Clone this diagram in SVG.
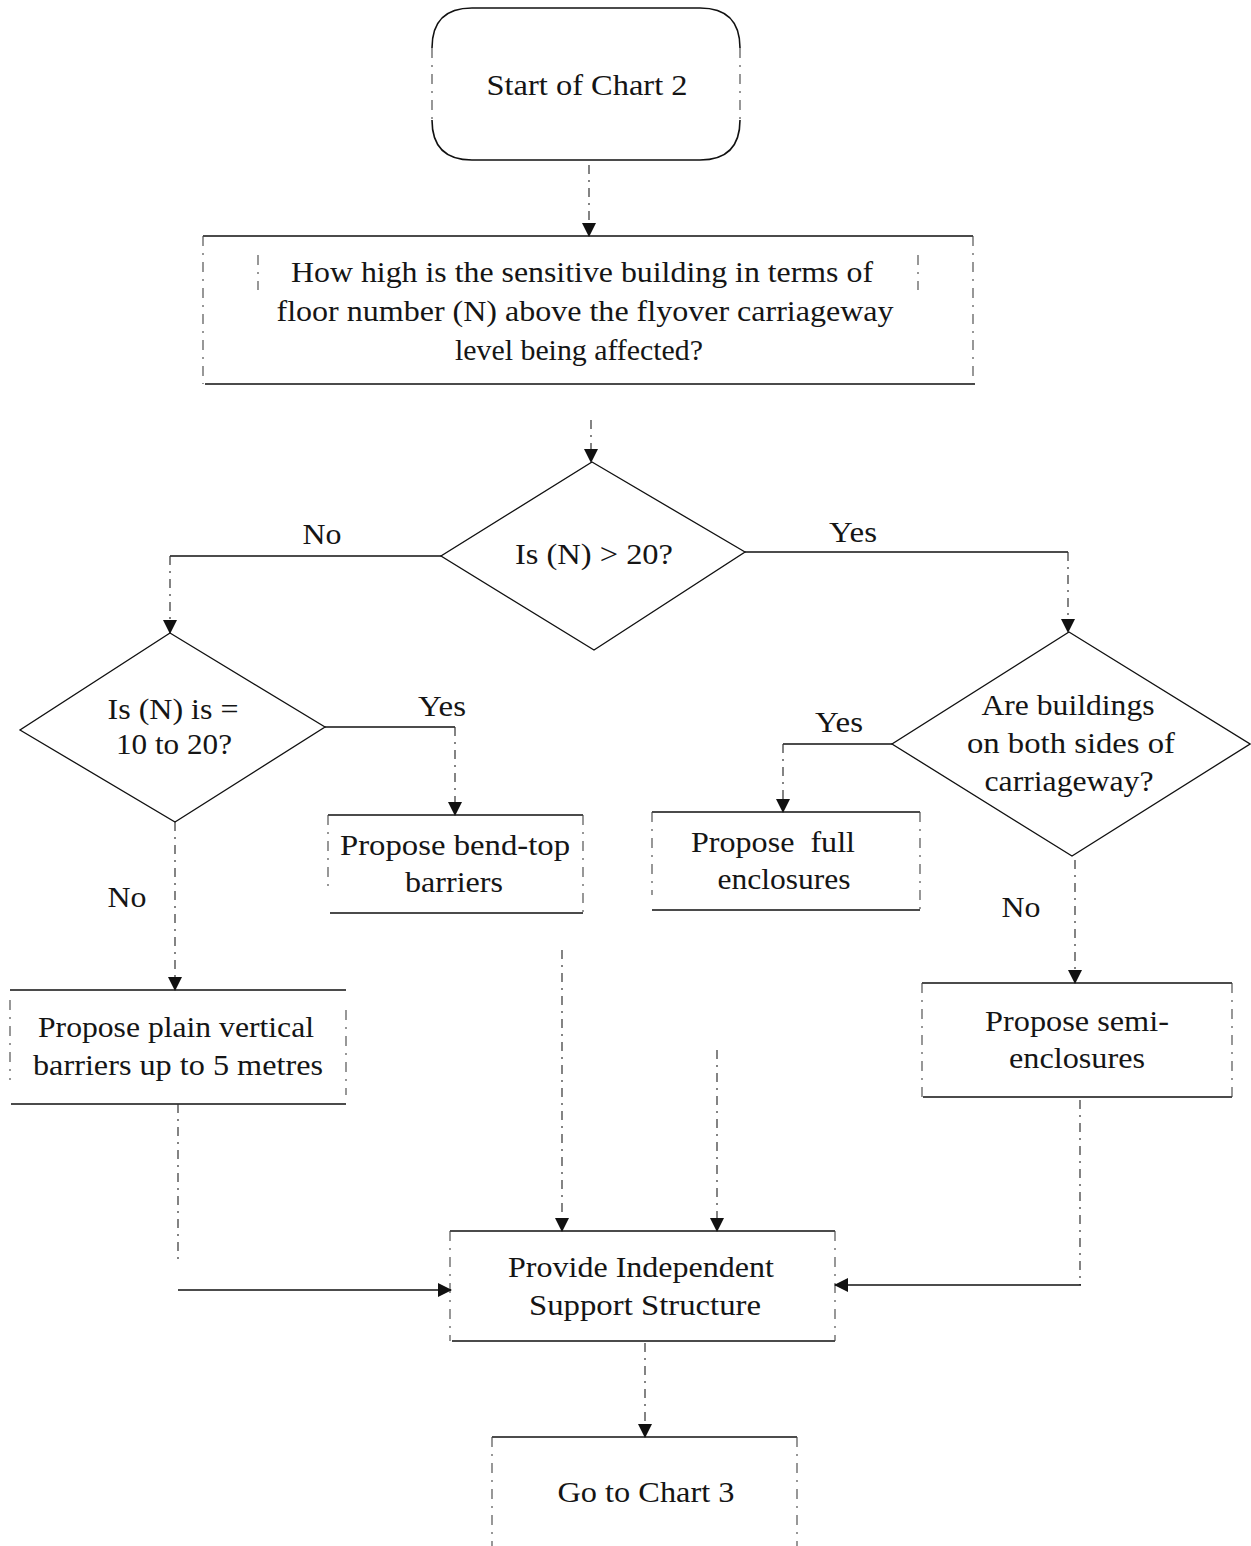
<svg xmlns="http://www.w3.org/2000/svg" width="1251" height="1546" viewBox="0 0 1251 1546">
<style>
  text { font-family: "Liberation Serif", "Times New Roman", serif; font-size: 29px; fill: #151515; text-anchor: middle; }
  .h { stroke: #111; stroke-width: 1.6; fill: none; }
  .v { stroke: #444; stroke-width: 1.1; fill: none; stroke-dasharray: 10 7 2 7; }
  .d { stroke: #111; stroke-width: 1.3; fill: none; }
  .c { stroke: #111; stroke-width: 1.6; fill: none; }
  .cd { stroke: #333; stroke-width: 1.2; fill: none; stroke-dasharray: 9 6 2 6; }
</style>
<defs>
  <marker id="arr" markerUnits="userSpaceOnUse" markerWidth="14" markerHeight="14" viewBox="0 0 14 14" refX="13" refY="7" orient="auto">
    <path d="M0,0 L14,7 L0,14 Z" fill="#111"/>
  </marker>
</defs>

<rect width="1251" height="1546" fill="#fff"/>

<g id="start">
  <path class="h" d="M472,8 H700 Q740,8 740,48 M740,120 Q740,160 700,160 H472 Q432,160 432,120 M432,48 Q432,8 472,8"/>
  <path class="v" d="M432,48 V120 M740,48 V120"/>
  <text x="587" y="95" textLength="201" lengthAdjust="spacingAndGlyphs">Start of Chart 2</text>
</g>

<g id="question">
  <path class="h" d="M203,236 H973 M205,384 H975"/>
  <path class="v" d="M203,236 V384 M973,236 V384 M258,255 V290 M918,255 V290"/>
  <text x="582" y="282" textLength="582" lengthAdjust="spacingAndGlyphs">How high is the sensitive building in terms of</text>
  <text x="585" y="321" textLength="617" lengthAdjust="spacingAndGlyphs">floor number (N) above the flyover carriageway</text>
  <text x="579" y="360" textLength="248" lengthAdjust="spacingAndGlyphs">level being affected?</text>
</g>

<g id="d1">
  <path class="d" d="M592,462 L745,552 L594,650 L441,556 Z"/>
  <text x="594" y="564" textLength="158" lengthAdjust="spacingAndGlyphs">Is (N) &gt; 20?</text>
</g>

<g id="d2">
  <path class="d" d="M170,633 L325,727 L175,822 L20,730 Z"/>
  <text x="173" y="719" textLength="131" lengthAdjust="spacingAndGlyphs">Is (N) is =</text>
  <text x="174" y="754" textLength="116" lengthAdjust="spacingAndGlyphs">10 to 20?</text>
</g>

<g id="d3">
  <path class="d" d="M1069,632 L1250,744 L1072,856 L892,744 Z"/>
  <text x="1068" y="715" textLength="173" lengthAdjust="spacingAndGlyphs">Are buildings</text>
  <text x="1071" y="753" textLength="208" lengthAdjust="spacingAndGlyphs">on both sides of</text>
  <text x="1069" y="791" textLength="169" lengthAdjust="spacingAndGlyphs">carriageway?</text>
</g>

<g id="bendtop">
  <path class="h" d="M328,815 H583 M330,913 H583"/>
  <path class="v" d="M328,815 V890 M583,815 V913"/>
  <text x="455" y="855" textLength="230" lengthAdjust="spacingAndGlyphs">Propose bend-top</text>
  <text x="454" y="892" textLength="98" lengthAdjust="spacingAndGlyphs">barriers</text>
</g>

<g id="full">
  <path class="h" d="M652,812 H920 M652,910 H920"/>
  <path class="v" d="M652,812 V895 M920,812 V910"/>
  <text x="773" y="852" textLength="164" lengthAdjust="spacingAndGlyphs" xml:space="preserve">Propose  full</text>
  <text x="784" y="889" textLength="133" lengthAdjust="spacingAndGlyphs">enclosures</text>
</g>

<g id="plain">
  <path class="h" d="M10,990 H346 M11,1104 H346"/>
  <path class="v" d="M10,1000 V1080 M346,1010 V1095"/>
  <text x="176" y="1037" textLength="276" lengthAdjust="spacingAndGlyphs">Propose plain vertical</text>
  <text x="178" y="1075" textLength="290" lengthAdjust="spacingAndGlyphs">barriers up to 5 metres</text>
</g>

<g id="semi">
  <path class="h" d="M922,983 H1232 M923,1097 H1232"/>
  <path class="v" d="M922,983 V1097 M1232,983 V1097"/>
  <text x="1077" y="1031" textLength="184" lengthAdjust="spacingAndGlyphs">Propose semi-</text>
  <text x="1077" y="1068" textLength="136" lengthAdjust="spacingAndGlyphs">enclosures</text>
</g>

<g id="support">
  <path class="h" d="M450,1231 H835 M452,1341 H835"/>
  <path class="v" d="M450,1231 V1341 M835,1231 V1341"/>
  <text x="641" y="1277" textLength="266" lengthAdjust="spacingAndGlyphs">Provide Independent</text>
  <text x="645" y="1315" textLength="232" lengthAdjust="spacingAndGlyphs">Support Structure</text>
</g>

<g id="chart3">
  <path class="h" d="M492,1437 H797"/>
  <path class="v" d="M492,1437 V1546 M797,1437 V1546"/>
  <text x="646" y="1502" textLength="177" lengthAdjust="spacingAndGlyphs">Go to Chart 3</text>
</g>

<g id="connectors">
  <path class="cd" d="M589,165 V236" marker-end="url(#arr)"/>
  <path class="cd" d="M591,420 V462" marker-end="url(#arr)"/>
  <path class="c" d="M441,556 H170"/>
  <path class="cd" d="M170,556 V633" marker-end="url(#arr)"/>
  <path class="c" d="M745,552 H1068"/>
  <path class="cd" d="M1068,552 V632" marker-end="url(#arr)"/>
  <path class="c" d="M325,727 H455"/>
  <path class="cd" d="M455,727 V815" marker-end="url(#arr)"/>
  <path class="cd" d="M175,822 V990" marker-end="url(#arr)"/>
  <path class="c" d="M892,744 H783"/>
  <path class="cd" d="M783,744 V812" marker-end="url(#arr)"/>
  <path class="cd" d="M1075,860 V983" marker-end="url(#arr)"/>
  <path class="cd" d="M562,950 V1231" marker-end="url(#arr)"/>
  <path class="cd" d="M717,1050 V1231" marker-end="url(#arr)"/>
  <path class="cd" d="M178,1104 V1260"/>
  <path class="c" d="M178,1290 H451" marker-end="url(#arr)"/>
  <path class="cd" d="M1080,1100 V1285"/>
  <path class="c" d="M1081,1285 H835" marker-end="url(#arr)"/>
  <path class="cd" d="M645,1343 V1437" marker-end="url(#arr)"/>
  <text x="322" y="544" textLength="39" lengthAdjust="spacingAndGlyphs">No</text>
  <text x="853" y="542" textLength="48" lengthAdjust="spacingAndGlyphs">Yes</text>
  <text x="442" y="716" textLength="48" lengthAdjust="spacingAndGlyphs">Yes</text>
  <text x="127" y="907" textLength="39" lengthAdjust="spacingAndGlyphs">No</text>
  <text x="839" y="732" textLength="48" lengthAdjust="spacingAndGlyphs">Yes</text>
  <text x="1021" y="917" textLength="39" lengthAdjust="spacingAndGlyphs">No</text>
</g>
</svg>
